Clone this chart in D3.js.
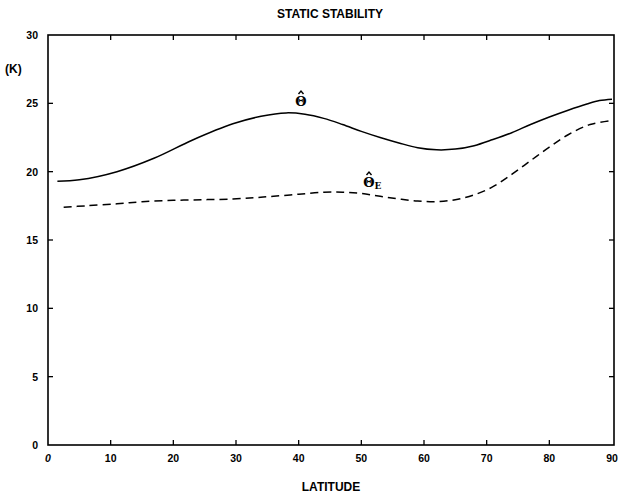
<!DOCTYPE html>
<html>
<head>
<meta charset="utf-8">
<script src="https://cdn.jsdelivr.net/npm/d3@7"></script>
<style>
  html, body { margin: 0; padding: 0; background: #fff; }
  svg { display: block; }
</style>
</head>
<body>
<svg id="chart" width="621" height="493"></svg>
<script>
// ---- data ----
const latitudes = [1.5, 5, 11, 17, 23, 29.5, 34, 38, 41, 44, 47, 50, 53, 56, 59, 62, 65, 68, 71, 74, 77, 80, 83, 86, 88, 90];
const thetaHat  = [19.3, 19.4, 20.0, 21.0, 22.3, 23.5, 24.05, 24.3, 24.2, 23.9, 23.45, 22.95, 22.5, 22.1, 21.75, 21.6, 21.65, 21.9, 22.35, 22.85, 23.45, 24.0, 24.5, 24.95, 25.2, 25.3];
const latitudesE = [2.5, 6, 11, 15, 20, 25, 29.5, 33, 36, 40, 44, 47, 50, 53, 56, 59, 62, 65, 68, 71, 74, 77, 80, 83, 86.5, 90];
const thetaHatE  = [17.4, 17.5, 17.65, 17.8, 17.9, 17.95, 18.0, 18.1, 18.2, 18.35, 18.5, 18.5, 18.4, 18.2, 18.0, 17.85, 17.8, 17.95, 18.3, 18.9, 19.8, 20.8, 21.8, 22.7, 23.45, 23.75];
const xTicks = [0, 10, 20, 30, 40, 50, 60, 70, 80, 90];
const yTicks = [0, 5, 10, 15, 20, 25, 30];
const title = "STATIC STABILITY";
const xTitle = "LATITUDE";
const yUnit = "(K)";

// ---- layout ----
const svg = d3.select("#chart");
const L = 48, R = 614, T = 35, B = 445;
const x = d3.scaleLinear().domain([0, 90]).range([L, R - 2]);
const y = d3.scaleLinear().domain([0, 30]).range([B, T]);
const font = "'Liberation Sans', Arial, sans-serif";

// frame
svg.append("rect")
  .attr("x", L).attr("y", T).attr("width", R - L).attr("height", B - T)
  .attr("fill", "none").attr("stroke", "#000").attr("stroke-width", 1.6);

// ticks (inward on all sides)
const tk = 5;
const gT = svg.append("g").attr("stroke", "#000").attr("stroke-width", 1.3);
xTicks.slice(1, -1).forEach(v => {
  gT.append("line").attr("x1", x(v)).attr("x2", x(v)).attr("y1", B).attr("y2", B - tk);
  gT.append("line").attr("x1", x(v)).attr("x2", x(v)).attr("y1", T).attr("y2", T + tk);
});
yTicks.slice(1, -1).forEach(v => {
  gT.append("line").attr("x1", L).attr("x2", L + tk).attr("y1", y(v)).attr("y2", y(v));
  gT.append("line").attr("x1", R).attr("x2", R - tk).attr("y1", y(v)).attr("y2", y(v));
});

// tick labels
svg.append("g").selectAll("text").data(xTicks).join("text")
  .attr("x", d => x(d)).attr("y", B + 17)
  .attr("text-anchor", "middle")
  .attr("font-family", font).attr("font-weight", "bold").attr("font-size", 10.5)
  .attr("font-style", d => d === 0 ? "italic" : "normal")
  .text(d => d);
svg.append("g").selectAll("text").data(yTicks).join("text")
  .attr("x", L - 10).attr("y", d => y(d) + 4)
  .attr("text-anchor", "end")
  .attr("font-family", font).attr("font-weight", "bold").attr("font-size", 10.5)
  .text(d => d);

// titles
svg.append("text").attr("x", 330).attr("y", 18).attr("text-anchor", "middle")
  .attr("font-family", font).attr("font-size", 12).attr("font-weight", "bold").text(title);
svg.append("text").attr("x", 331).attr("y", 491).attr("text-anchor", "middle")
  .attr("font-family", font).attr("font-size", 12).attr("font-weight", "bold").text(xTitle);
svg.append("text").attr("x", 5).attr("y", 73)
  .attr("font-family", font).attr("font-size", 12).attr("font-weight", "bold").text(yUnit);

// lines
const line = d3.line().x(d => x(d[0])).y(d => y(d[1])).curve(d3.curveCatmullRom.alpha(0.5));
svg.append("path").datum(d3.zip(latitudes, thetaHat))
  .attr("d", line).attr("fill", "none").attr("stroke", "#000").attr("stroke-width", 1.5);
svg.append("path").datum(d3.zip(latitudesE, thetaHatE))
  .attr("d", line).attr("fill", "none").attr("stroke", "#000").attr("stroke-width", 1.5)
  .attr("stroke-dasharray", "8,5");

// curve labels (theta with a hat drawn as a small caret)
const serif = "'DejaVu Serif', 'Liberation Serif', serif";
function thetaLabel(cx, baseline, sub) {
  const g = svg.append("g");
  const t = g.append("text").attr("x", cx).attr("y", baseline).attr("text-anchor", "middle")
    .attr("font-family", serif).attr("font-size", 13).attr("font-weight", "bold")
    .text("\u0398");
  g.append("path")
    .attr("d", `M${cx - 2.5},${baseline - 12} L${cx},${baseline - 15} L${cx + 2.5},${baseline - 12}`)
    .attr("fill", "none").attr("stroke", "#000").attr("stroke-width", 1.4);
  if (sub) {
    g.append("text").attr("x", cx + 5.5).attr("y", baseline + 2)
      .attr("font-family", serif).attr("font-size", 9).attr("font-weight", "bold").text(sub);
  }
}
thetaLabel(301, 106, null);
thetaLabel(369, 187, "E");
</script>
</body>
</html>
